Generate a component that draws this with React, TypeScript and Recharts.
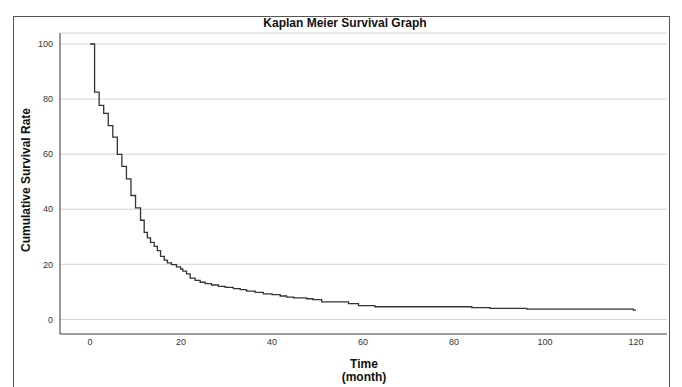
import { CartesianGrid, Line, LineChart, XAxis, YAxis } from "recharts";

const W = 682;
const H = 387;
const FONT = '"Liberation Sans", Arial, sans-serif';

// Kaplan-Meier step points: survival (%) holds from each month onward
const months = [
  0, 1, 2, 3, 4, 5, 6, 7, 8, 9, 10, 11.1, 11.9, 12.6, 13.3, 14.1, 14.8, 15.5,
  16.3, 17, 17.9, 19, 19.9, 20.4, 21.2, 22, 23.1, 24.2, 25.3, 26.7, 28.2, 29.7,
  31.5, 33, 34.4, 36.3, 38.1, 40, 41.8, 43.2, 44.7, 47.6, 49, 50.9, 56.8, 59,
  62.6, 83.9, 87.9, 96, 119.4, 120,
];
const survival = [
  100, 82.5, 77.7, 74.8, 70.4, 66.2, 59.9, 55.6, 51, 45, 40.5, 36, 31.6, 29.6,
  28, 26.5, 25, 22.9, 21.5, 20.5, 19.9, 19.1, 18.3, 17.5, 16.5, 15, 14.2, 13.5,
  13, 12.5, 12, 11.6, 11.2, 10.8, 10.3, 9.8, 9.3, 9, 8.5, 8.1, 7.8, 7.5, 7.2,
  6.4, 5.7, 5.0, 4.6, 4.3, 4.0, 3.7, 3.4, 3.4,
];
const xTicks = [0, 20, 40, 60, 80, 100, 120];
const yTicks = [0, 20, 40, 60, 80, 100];

const data = months.map((m, i) => ({ month: m, rate: survival[i] }));

const tickStyle = { fill: "#333", fontSize: 9, fontFamily: FONT };

export default function App() {
  return (
    <div
      style={{
        position: "absolute",
        left: 0,
        top: 0,
        width: W,
        height: H,
        overflow: "hidden",
        background: "#fff",
        fontFamily: FONT,
      }}
    >
      {/* outer frame */}
      <div
        style={{
          position: "absolute",
          left: 13,
          top: 16,
          width: 657,
          height: 400,
          border: "1.5px solid #555",
          boxSizing: "border-box",
        }}
      />
      <div
        style={{
          position: "absolute",
          left: 0,
          width: W,
          top: 16,
          textAlign: "center",
          paddingLeft: 8,
          boxSizing: "border-box",
          fontSize: 12,
          fontWeight: 700,
          color: "#111",
        }}
      >
        Kaplan Meier Survival Graph
      </div>
      <div style={{ position: "absolute", left: 0, top: 0 }}>
        <LineChart
          width={W}
          height={H}
          data={data}
          margin={{ top: 33, right: 15, left: 0, bottom: 0 }}
        >
          <CartesianGrid
            horizontal
            vertical={false}
            stroke="#d2d2d2"
            strokeWidth={1}
          />
          <XAxis
            type="number"
            dataKey="month"
            domain={[-6.6, 126.8]}
            ticks={xTicks}
            allowDataOverflow
            height={53}
            tickLine={false}
            tickSize={3}
            tickMargin={2}
            axisLine={{ stroke: "#555", strokeWidth: 1.2 }}
            tick={tickStyle}
          />
          <YAxis
            type="number"
            domain={[-5.3, 104]}
            ticks={yTicks}
            allowDataOverflow
            width={60}
            tickLine={false}
            tickSize={5}
            tickMargin={2}
            axisLine={{ stroke: "#555", strokeWidth: 1.2 }}
            tick={tickStyle}
          />
          <Line
            type="stepAfter"
            dataKey="rate"
            stroke="#333"
            strokeWidth={1.3}
            dot={false}
            isAnimationActive={false}
          />
        </LineChart>
      </div>
      {/* axis titles */}
      <div
        style={{
          position: "absolute",
          left: 26,
          top: 180,
          transform: "translate(-50%, -50%) rotate(-90deg)",
          whiteSpace: "nowrap",
          fontSize: 12,
          fontWeight: 700,
          color: "#111",
        }}
      >
        Cumulative Survival Rate
      </div>
      <div
        style={{
          position: "absolute",
          left: 364,
          top: 358,
          transform: "translateX(-50%)",
          textAlign: "center",
          fontSize: 12,
          fontWeight: 700,
          lineHeight: "13px",
          color: "#111",
        }}
      >
        Time
        <br />
        (month)
      </div>
    </div>
  );
}
